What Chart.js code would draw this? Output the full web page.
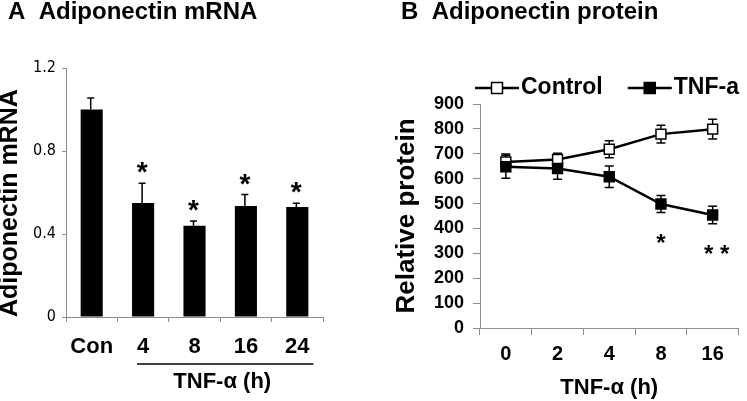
<!DOCTYPE html>
<html>
<head>
<meta charset="utf-8">
<script src="https://cdn.jsdelivr.net/npm/chart.js@4.4.1/dist/chart.umd.min.js"></script>
<style>
html, body { margin: 0; padding: 0; background: #fff; overflow: hidden; width: 747px; height: 401px; }
#wa { position: absolute; left: 0; top: 0; width: 370px; height: 401px; }
#wb { position: absolute; left: 370px; top: 0; width: 377px; height: 401px; }
canvas { display: block; }
</style>
</head>
<body>
<div id="wa"><canvas id="ca" width="370" height="401"></canvas></div>
<div id="wb"><canvas id="cb" width="377" height="401"></canvas></div>
<script>
// ---- Panel A data ----
const mrnaCategories = ['Con', '4', '8', '16', '24'];
const mrnaValues = [1.0, 0.55, 0.44, 0.535, 0.53];
const mrnaErrors = [0.055, 0.095, 0.023, 0.055, 0.018];
const mrnaSignif = ['', '*', '*', '*', '*'];
const mrnaTicks = [0, 0.4, 0.8, 1.2];
const mrnaGroupLabel = 'TNF-\u03B1 (h)';

// ---- Panel B data ----
const proteinCategories = ['0', '2', '4', '8', '16'];
const controlValues = [667, 677, 718, 779, 799];
const controlErrors = [32, 25, 34, 36, 40];
const tnfValues = [648, 641, 608, 498, 454];
const tnfErrors = [46, 43, 43, 34, 35];
const proteinSignif = ['', '', '', '*', '* *'];
const proteinTicks = [0, 100, 200, 300, 400, 500, 600, 700, 800, 900];

const FONT = "'Liberation Sans', Arial, sans-serif";
const NARROW = "'Liberation Sans Narrow', 'DejaVu Sans Condensed', 'Liberation Sans', sans-serif";
Chart.defaults.font.family = FONT;
Chart.defaults.color = '#000';
const AXIS_GREY = '#8c8c8c';

// ---- Panel A annotations: error bars, asterisks, group underline & label ----
const annotA = {
  id: 'annotA',
  afterDatasetsDraw(chart) {
    const { ctx, scales: { x, y }, chartArea } = chart;
    ctx.save();
    ctx.strokeStyle = '#000';
    ctx.fillStyle = '#000';
    ctx.lineWidth = 1.5;
    mrnaValues.forEach((v, i) => {
      const px = x.getPixelForValue(i) - 1;
      const base = y.getPixelForValue(v);
      const top = y.getPixelForValue(v + mrnaErrors[i]);
      ctx.beginPath();
      ctx.moveTo(px, base);
      ctx.lineTo(px, top);
      ctx.moveTo(px - 3.5, top);
      ctx.lineTo(px + 3.5, top);
      ctx.stroke();
      if (mrnaSignif[i]) {
        ctx.font = 'bold 28px ' + FONT;
        ctx.textAlign = 'center';
        ctx.textBaseline = 'alphabetic';
        ctx.fillText(mrnaSignif[i], px, top - 18 + 16);
      }
    });
    // underline grouping the TNF time points
    ctx.font = 'bold 22px ' + FONT;
    const first = 1, last = mrnaCategories.length - 1;
    const x0 = x.getPixelForValue(first) - ctx.measureText(mrnaCategories[first]).width / 2;
    const x1 = x.getPixelForValue(last) + ctx.measureText(mrnaCategories[last]).width / 2 + 4;
    const ly = chartArea.bottom + 47;
    ctx.lineWidth = 1.5;
    ctx.beginPath();
    ctx.moveTo(x0, ly);
    ctx.lineTo(x1, ly);
    ctx.stroke();
    ctx.textAlign = 'center';
    ctx.textBaseline = 'middle';
    ctx.fillText(mrnaGroupLabel, (x0 + x1) / 2 - 3, chartArea.bottom + 65);
    ctx.restore();
  }
};

new Chart(document.getElementById('ca'), {
  type: 'bar',
  data: {
    labels: mrnaCategories,
    datasets: [{
      label: 'Adiponectin mRNA',
      data: mrnaValues,
      backgroundColor: '#000',
      borderWidth: 0,
      categoryPercentage: 0.43,
      barPercentage: 1
    }]
  },
  options: {
    responsive: false,
    animation: false,
    devicePixelRatio: 1,
    events: [],
    layout: { padding: { left: 8, right: 47, top: 0, bottom: 0 } },
    plugins: {
      legend: { display: false },
      tooltip: { enabled: false },
      title: {
        display: true,
        text: 'A  Adiponectin mRNA',
        align: 'start',
        color: '#000',
        font: { size: 24, weight: 'bold', lineHeight: 1 },
        padding: { top: 0, bottom: 44 }
      }
    },
    scales: {
      x: {
        grid: { drawOnChartArea: false, tickLength: 5, color: AXIS_GREY, offset: true },
        border: { color: AXIS_GREY, width: 1 },
        ticks: { font: { size: 22, weight: 'bold' }, padding: 12, color: '#000' },
        afterFit: s => { s.height = 84; }
      },
      y: {
        min: 0,
        max: 1.2,
        afterBuildTicks: s => { s.ticks = mrnaTicks.map(v => ({ value: v })); },
        grid: { drawOnChartArea: false, tickLength: 4, color: AXIS_GREY },
        border: { color: AXIS_GREY, width: 1 },
        ticks: { font: { family: NARROW, size: 16 }, padding: 6, color: '#000', callback: v => String(v) },
        title: {
          display: true,
          text: 'Adiponectin mRNA',
          align: 'start',
          color: '#000',
          font: { size: 25, weight: 'bold' },
          padding: { top: -12.7, bottom: 0 }
        },
        afterFit: s => { s.width = 58; }
      }
    }
  },
  plugins: [annotA]
});

// ---- Panel B annotations ----
const errorBarsB = {
  id: 'errorBarsB',
  beforeDatasetsDraw(chart) {
    const { ctx, scales: { x, y } } = chart;
    const errs = [controlErrors, tnfErrors];
    ctx.save();
    ctx.strokeStyle = '#000';
    ctx.lineWidth = 1.5;
    chart.data.datasets.forEach((ds, d) => {
      ds.data.forEach((v, i) => {
        const px = x.getPixelForValue(i);
        const t = y.getPixelForValue(v + errs[d][i]);
        const b = y.getPixelForValue(v - errs[d][i]);
        ctx.beginPath();
        ctx.moveTo(px, t); ctx.lineTo(px, b);
        ctx.moveTo(px - 4.5, t); ctx.lineTo(px + 4.5, t);
        ctx.moveTo(px - 4.5, b); ctx.lineTo(px + 4.5, b);
        ctx.stroke();
      });
    });
    ctx.restore();
  },
  afterDatasetsDraw(chart) {
    const { ctx, scales: { x, y } } = chart;
    ctx.save();
    ctx.fillStyle = '#000';
    ctx.font = 'bold 24px ' + FONT;
    ctx.textAlign = 'center';
    ctx.textBaseline = 'alphabetic';
    tnfValues.forEach((v, i) => {
      if (!proteinSignif[i]) return;
      const px = x.getPixelForValue(i) + (proteinSignif[i].length > 1 ? 4 : 0);
      const b = y.getPixelForValue(v - tnfErrors[i]);
      ctx.fillText(proteinSignif[i], px, b + 24 + 14);
    });
    ctx.restore();
  },
  afterDraw(chart) {
    // legend: line + square marker + label
    const { ctx, chartArea } = chart;
    ctx.save();
    ctx.font = 'bold 23px ' + FONT;
    const yy = chartArea.top - 16;
    let xx = chartArea.left - 5;
    chart.data.datasets.forEach(ds => {
      const len = 44;
      ctx.strokeStyle = '#000';
      ctx.lineWidth = 2.5;
      ctx.beginPath();
      ctx.moveTo(xx, yy); ctx.lineTo(xx + len, yy);
      ctx.stroke();
      ctx.fillStyle = ds.pointBackgroundColor;
      ctx.fillRect(xx + len / 2 - 5.5, yy - 5.5, 11, 11);
      ctx.lineWidth = 1.5;
      ctx.strokeRect(xx + len / 2 - 5.5, yy - 5.5, 11, 11);
      ctx.fillStyle = '#000';
      ctx.textAlign = 'left';
      ctx.textBaseline = 'middle';
      ctx.fillText(ds.label, xx + len + 2, yy);
      xx += len + 2 + ctx.measureText(ds.label).width + 25;
    });
    ctx.restore();
  }
};

new Chart(document.getElementById('cb'), {
  type: 'line',
  data: {
    labels: proteinCategories,
    datasets: [
      {
        label: 'Control',
        data: controlValues,
        borderColor: '#000',
        borderWidth: 2.5,
        pointStyle: 'rect',
        pointRadius: 7,
        pointBackgroundColor: '#fff',
        pointBorderColor: '#000',
        pointBorderWidth: 1.5,
        fill: false,
        tension: 0,
        order: 2
      },
      {
        label: 'TNF-a',
        data: tnfValues,
        borderColor: '#000',
        borderWidth: 2.5,
        pointStyle: 'rect',
        pointRadius: 7,
        pointBackgroundColor: '#000',
        pointBorderColor: '#000',
        pointBorderWidth: 1.5,
        fill: false,
        tension: 0,
        order: 1
      }
    ]
  },
  options: {
    responsive: false,
    animation: false,
    devicePixelRatio: 1,
    events: [],
    layout: { padding: { left: 31, right: 3, top: 0, bottom: 0 } },
    plugins: {
      legend: { display: false },
      tooltip: { enabled: false },
      title: {
        display: true,
        text: 'B  Adiponectin protein',
        align: 'start',
        color: '#000',
        font: { size: 24, weight: 'bold', lineHeight: 1 },
        padding: { top: 0, bottom: 80 }
      }
    },
    scales: {
      x: {
        offset: true,
        grid: { drawOnChartArea: false, tickLength: 7, color: AXIS_GREY, offset: true },
        border: { color: AXIS_GREY, width: 1 },
        ticks: { font: { size: 20, weight: 'bold' }, padding: 7, color: '#000' },
        title: {
          display: true,
          text: 'TNF-\u03B1 (h)',
          color: '#000',
          font: { size: 22, weight: 'bold' },
          padding: { top: 0, bottom: 0 }
        },
        afterFit: s => { s.height = 73; }
      },
      y: {
        min: 0,
        max: 900,
        afterBuildTicks: s => { s.ticks = proteinTicks.map(v => ({ value: v })); },
        grid: { drawOnChartArea: false, tickLength: 7, color: AXIS_GREY },
        border: { color: AXIS_GREY, width: 1 },
        ticks: { font: { size: 18, weight: 'bold' }, padding: 9, color: '#000', callback: v => String(v) },
        title: {
          display: true,
          text: 'Relative protein',
          color: '#000',
          font: { size: 26, weight: 'bold' },
          padding: { top: -9.9, bottom: 0 }
        },
        afterFit: s => { s.width = 79; }
      }
    }
  },
  plugins: [errorBarsB]
});
</script>
</body>
</html>
